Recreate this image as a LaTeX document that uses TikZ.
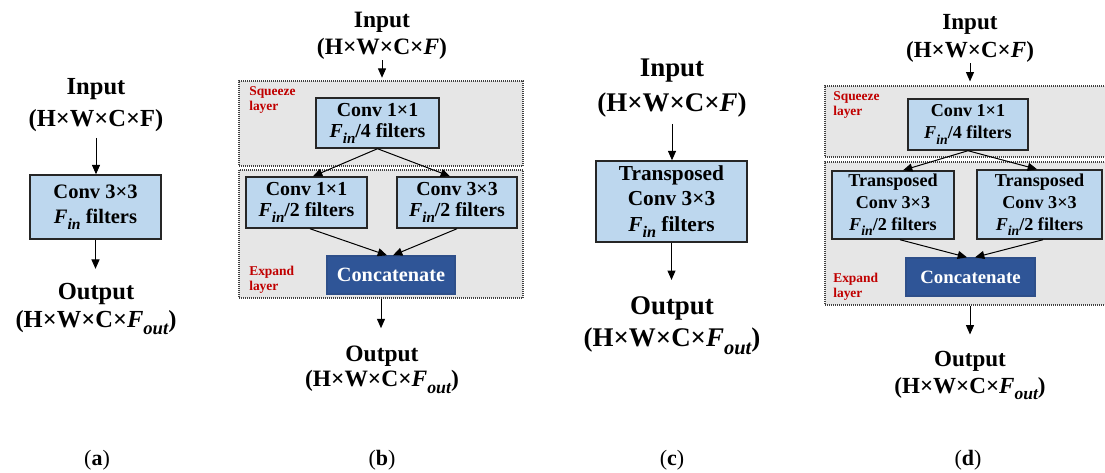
\documentclass[tikz,border=0pt]{standalone}
\usepackage{fontspec}
\setmainfont{Liberation Serif}
\usetikzlibrary{fit,calc,arrows.meta}

\definecolor{boxfill}{HTML}{BDD7EE}
\definecolor{boxline}{HTML}{262626}
\definecolor{catfill}{HTML}{2F5597}
\definecolor{catline}{HTML}{2E4F8A}
\definecolor{layerfill}{HTML}{E6E6E6}
\definecolor{dotline}{HTML}{404040}
\definecolor{tagred}{HTML}{C00000}

\newcommand{\fsz}[2]{\fontsize{#1}{#2}\selectfont}
\makeatletter
\newcommand{\lowidx}[1]{\raisebox{-0.28em}{\fontsize{\fpeval{0.76*\f@size}}{1}\selectfont\itshape #1}}
\makeatother
\newcommand{\Fin}{\textit{F}\lowidx{in}}
\newcommand{\Fout}{\textit{F}\lowidx{out}}

\begin{document}
\begin{tikzpicture}[x=0.75pt,y=-0.75pt,
  lbl/.style={inner sep=0pt, anchor=base},
  labA/.style={lbl, font=\bfseries\fsz{18.4}{22}},
  labB/.style={lbl, font=\bfseries\fsz{17.6}{21}},
  labC/.style={lbl, font=\bfseries\fsz{20.2}{24}},
  labD/.style={lbl, font=\bfseries\fsz{17.3}{21}},
  wh/.style 2 args={minimum width=#1*0.75pt, minimum height=#2*0.75pt},
  blk/.style={draw=boxline, fill=boxfill, line width=1.1pt, inner sep=0pt, align=center},
  boxA/.style={blk, font=\bfseries\fsz{15.4}{18.75}},
  boxB/.style={blk, font=\bfseries\fsz{14.9}{16}},
  boxC/.style={blk, font=\bfseries\fsz{16}{19.1}},
  boxD/.style={blk, font=\bfseries\fsz{13.6}{16.5}},
  catbox/.style={draw=catline, fill=catfill, line width=1pt, inner sep=0pt, text=white},
  catB/.style={catbox, font=\bfseries\fsz{15.2}{18}},
  catD/.style={catbox, font=\bfseries\fsz{14.1}{17}},
  layer/.style={draw=dotline, fill=layerfill, line width=0.9pt, dash pattern=on 0.75pt off 0.75pt, inner sep=0pt},
  tagtxt/.style={inner sep=0pt, anchor=north west, align=left, text=tagred, font=\bfseries\fsz{10.1}{11.25}},
  arr/.style={-{Triangle[length=7pt,width=6pt]}, line width=0.75pt},
  captxt/.style={inner sep=0pt, anchor=base, font=\fsz{16.5}{20}}]
\useasboundingbox (0,0) rectangle (1105,473);

% ---------- (a) plain convolution ----------
\node[labA] (ia1) at (96,95) {Input};
\node[labA] (ia2) at (96,127) {(H×W×C×F)};
\node[boxA, wh={131}{64}] (ba) at (95.5,207) {Conv 3×3\\\Fin{} filters};
\node[labA] (oa1) at (96,300) {Output};
\node[labA] (oa2) at (96,328) {(H×W×C×\Fout)};
\draw[arr, shorten <=4pt] (ia2.south) -- (ia2.south |- ba.north);
\draw[arr, shorten >=11pt] (ba.south) -- (ba.south |- oa1.north);

% ---------- (b) fire module ----------
\node[labB] (ib1) at (382,28) {Input};
\node[labB] (ib2) at (382,55) {(H×W×C×\textit{F})};
\node[layer, fit={(239,81) (523,166)}] (sqb) {};
\node[layer, fit={(239,170) (523,298)}] (exb) {};
\node[tagtxt] (tsqb) at (249,86) {Squeeze\\layer};
\node[tagtxt] (texb) at (249,266) {Expand\\layer};
\node[boxB, wh={123}{50}] (tb) at (377.5,123) {Conv 1×1\\\Fin/4 filters};
\node[boxB, wh={121}{51}] (lb) at (306.5,202.5) {Conv 1×1\\\Fin/2 filters};
\node[boxB, wh={120}{51}] (rb) at (457,202.5) {Conv 3×3\\\Fin/2 filters};
\node[catB, wh={128}{38}] (cb) at (391,275) {Concatenate};
\node[labB] (ob1) at (382,362) {Output};
\node[labB] (ob2) at (382,387) {(H×W×C×\Fout)};
\draw[arr, shorten >=2pt] (ib2.south) -- (ib2.south |- sqb.north);
\draw[arr] (tb.south) -- ($(lb.north)+(6.5,0)$);
\draw[arr] (tb.south) -- ($(rb.north)+(-7,0)$);
\draw[arr] ($(lb.south)+(3.5,0)$) -- ($(cb.north)+(-4,0)$);
\draw[arr] (rb.south) -- ($(cb.north)+(2,0)$);
\draw[arr, shorten >=13.5pt] (exb.south) -- (exb.south |- ob1.north);

% ---------- (c) transposed convolution ----------
\node[labC] (ic1) at (672,77) {Input};
\node[labC] (ic2) at (672,112) {(H×W×C×\textit{F})};
\node[boxC, wh={151}{81}] (bc) at (671.5,201.5) {Transposed\\Conv 3×3\\\Fin{} filters};
\node[labC] (oc1) at (672,315) {Output};
\node[labC] (oc2) at (672,347) {(H×W×C×\Fout)};
\draw[arr, shorten <=4.5pt] (ic2.south) -- (ic2.south |- bc.north);
\draw[arr, shorten >=12.75pt] (bc.south) -- (bc.south |- oc1.north);

% ---------- (d) transposed fire module ----------
\node[labD] (id1) at (970,30) {Input};
\node[labD] (id2) at (970,58) {(H×W×C×\textit{F})};
\node[layer, fit={(825,86) (1115,157)}] (sqd) {};
\node[layer, fit={(825,162) (1115,305)}] (exd) {};
\node[tagtxt] (tsqd) at (833,91) {Squeeze\\layer};
\node[tagtxt] (texd) at (833,273) {Expand\\layer};
\node[boxD, wh={120}{51}] (td) at (968,124.5) {Conv 1×1\\\Fin/4 filters};
\node[boxD, wh={122}{68}] (ld) at (893,205) {Transposed\\Conv 3×3\\\Fin/2 filters};
\node[boxD, wh={125}{69}] (rd) at (1039.5,204.5) {Transposed\\Conv 3×3\\\Fin/2 filters};
\node[catD, wh={129}{38}] (cd) at (970.5,277) {Concatenate};
\node[labD] (od1) at (970,367) {Output};
\node[labD] (od2) at (970,393) {(H×W×C×\Fout)};
\draw[arr, shorten >=3pt] (id2.south) -- (id2.south |- sqd.north);
\draw[arr] (td.south) -- ($(ld.north)+(10,0)$);
\draw[arr] (td.south) -- ($(rd.north)+(-2.5,0)$);
\draw[arr] ($(ld.south)+(7,0)$) -- ($(cd.north)+(-3.5,0)$);
\draw[arr] ($(rd.south)+(3.5,0)$) -- ($(cd.north)+(4.5,0)$);
\draw[arr, shorten >=12.75pt] (exd.south) -- (exd.south |- od1.north);

% ---------- panel captions ----------
\node[captxt] (ca) at (97,465) {(\textbf{a})};
\node[captxt] (cbl) at (382,465) {(\textbf{b})};
\node[captxt] (cc) at (672,465) {(\textbf{c})};
\node[captxt] (cdl) at (968,465) {(\textbf{d})};
\end{tikzpicture}
\end{document}
